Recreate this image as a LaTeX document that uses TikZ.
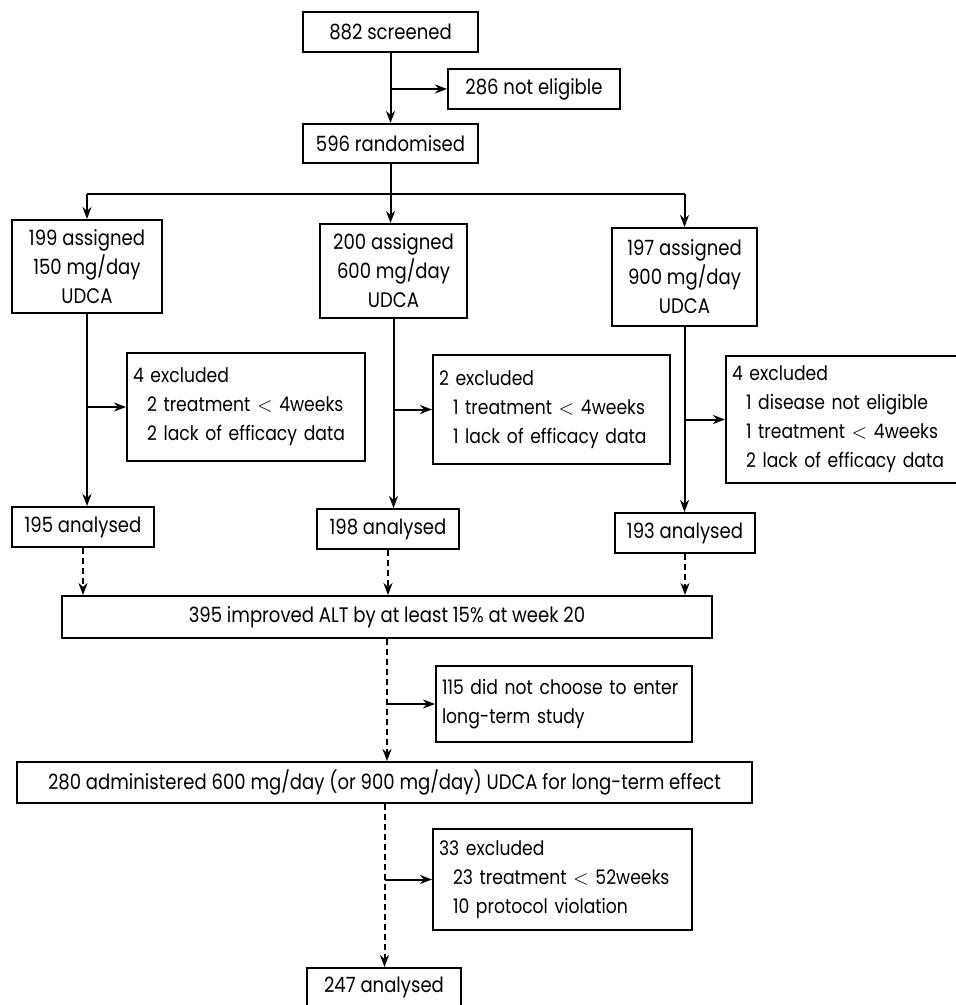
\documentclass[tikz,border=0pt]{standalone}
\usepackage{fontspec}
\setmainfont{Poppins}[FakeStretch=0.86]
\usetikzlibrary{arrows.meta}
\tikzset{
  box/.style={draw, line width=1pt, inner sep=0pt, align=center, font=\fontsize{10.5}{14.5}\selectfont},
  lbox/.style={box, align=left, inner xsep=3pt, text width=#1, font=\fontsize{10}{14.5}\selectfont},
  ln/.style={line width=1pt},
  arr/.style={ln, -{Stealth[length=6pt,width=4.5pt]}},
  dsh/.style={arr, dash pattern=on 3pt off 2pt},
}
\newcommand{\ind}{\hspace*{7pt}}
\begin{document}
\begin{tikzpicture}[x=0.5pt, y=-0.5pt]
\useasboundingbox (0,0) rectangle (955,1005);
\node[box, minimum width=87.5pt, minimum height=20pt] (scr) at (390.5,32) {882 screened};
\node[box, minimum width=86pt, minimum height=20pt] (nel) at (534,89) {286 not eligible};
\node[box, minimum width=87.5pt, minimum height=19.5pt] (rnd) at (390.5,143.5) {596 randomised};
\node[box, minimum width=75pt, minimum height=46.5pt] (a150) at (87,266.5) {199 assigned\\150 mg/day\\UDCA};
\node[box, minimum width=73.5pt, minimum height=47pt] (a600) at (393.5,271) {200 assigned\\600 mg/day\\UDCA};
\node[box, minimum width=72.5pt, minimum height=49pt] (a900) at (684.5,277) {197 assigned\\900 mg/day\\UDCA};
\node[lbox=113pt, minimum height=54pt] (ex150) at (246,407) {4 excluded\\\ind 2 treatment $<$ 4weeks\\\ind 2 lack of efficacy data};
\node[lbox=112.5pt, minimum height=54.5pt] (ex600) at (551.5,409.5) {2 excluded\\\ind 1 treatment $<$ 4weeks\\\ind 1 lack of efficacy data};
\node[lbox=112pt, minimum height=63.5pt] (ex900) at (844,419.5) {4 excluded\\\ind 1 disease not eligible\\\ind 1 treatment $<$ 4weeks\\\ind 2 lack of efficacy data};
\node[box, minimum width=71pt, minimum height=20pt] (an150) at (83,527) {195 analysed};
\node[box, minimum width=71pt, minimum height=20pt] (an600) at (388,529) {198 analysed};
\node[box, minimum width=70pt, minimum height=20pt] (an900) at (685,533) {193 analysed};
\node[box, minimum width=325pt, minimum height=21pt] (alt) at (387,617) {395 improved ALT by at least 15\% at week 20};
\node[lbox=122pt, minimum height=38pt] (nch) at (564,704) {115 did not choose to enter\\long-term study};
\node[box, minimum width=367.5pt, minimum height=20.5pt] (adm) at (384.5,782.5) {280 administered 600 mg/day (or 900 mg/day) UDCA for long-term effect};
\node[lbox=123.5pt, minimum height=50.5pt] (ex52) at (562.5,879.5) {33 excluded\\\ind 23 treatment $<$ 52weeks\\\ind 10 protocol violation};
\node[box, minimum width=77pt, minimum height=19.5pt] (fin) at (384,987.5) {247 analysed};
\coordinate (split) at (390.5,194);
\draw[arr] (scr) -- (rnd);
\draw[arr] (scr.south |- nel.west) -- (nel.west);
\draw[arr] (rnd.south) -- (rnd.south |- a600.north);
\draw[ln] (a150.north |- split) -- (a900.north |- split);
\draw[arr] (a150.north |- split) -- (a150.north);
\draw[arr] (a900.north |- split) -- (a900.north);
\draw[arr] (a150.south) -- (a150.south |- an150.north);
\draw[arr] (a150.south |- ex150.west) -- (ex150.west);
\draw[arr] (a600.south) -- (a600.south |- an600.north);
\draw[arr] (a600.south |- ex600.west) -- (ex600.west);
\draw[arr] (a900.south) -- (a900.south |- an900.north);
\draw[arr] (a900.south |- ex900.west) -- (ex900.west);
\draw[dsh] (an150.south) -- (an150.south |- alt.north);
\draw[dsh] (an600.south) -- (an600.south |- alt.north);
\draw[dsh] (an900.south) -- (an900.south |- alt.north);
\draw[dsh] (alt.south) -- (alt.south |- adm.north);
\draw[arr] (alt.south |- nch.west) -- (nch.west);
\draw[dsh] (adm.south) -- (adm.south |- fin.north);
\draw[arr] (adm.south |- ex52.west) -- (ex52.west);
\end{tikzpicture}
\end{document}
